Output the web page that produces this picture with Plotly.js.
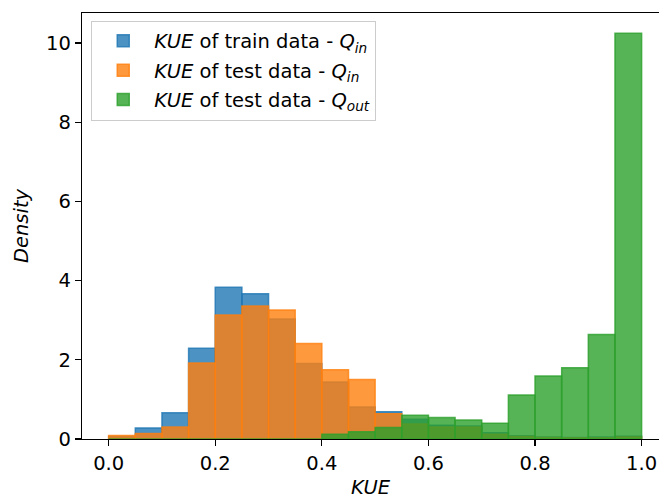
<!DOCTYPE html>
<html>
<head>
<meta charset="utf-8">
<script src="https://cdn.plot.ly/plotly-3.0.1.min.js"></script>
<style>
  html, body { margin: 0; padding: 0; background: #fff; }
  #chart { width: 659px; height: 499px; }
</style>
</head>
<body>
<div id="chart"></div>
<script>
// Histogram bins: 20 bins of width 0.05 on [0, 1]
const binWidth = 0.05;
const binStarts = [0.00, 0.05, 0.10, 0.15, 0.20, 0.25, 0.30, 0.35, 0.40, 0.45,
                   0.50, 0.55, 0.60, 0.65, 0.70, 0.75, 0.80, 0.85, 0.90, 0.95];

// Density per bin
const trainIn = [0.06, 0.28, 0.66, 2.29, 3.83, 3.67, 3.03, 1.91, 1.44, 0.81,
                 0.69, 0.50, 0.35, 0.33, 0.16, 0.08, 0.05, 0.04, 0.05, 0.07];
const testIn  = [0.09, 0.14, 0.30, 1.92, 3.13, 3.36, 3.26, 2.41, 1.75, 1.50,
                 0.64, 0.38, 0.30, 0.30, 0.12, 0.06, 0.04, 0.03, 0.03, 0.05];
const testOut = [0.00, 0.00, 0.00, 0.00, 0.00, 0.00, 0.00, 0.00, 0.12, 0.18,
                 0.29, 0.60, 0.54, 0.48, 0.40, 1.11, 1.59, 1.80, 2.64, 10.25];

const seriesNames = [
  '<i>KUE</i> of train data - <i>Q<sub>in</sub></i>',
  '<i>KUE</i> of test data - <i>Q<sub>in</sub></i>',
  '<i>KUE</i> of test data - <i>Q<sub>out</sub></i>'
];
const xTicks = [0.0, 0.2, 0.4, 0.6, 0.8, 1.0];
const yTicks = [0, 2, 4, 6, 8, 10];

const centers = binStarts.map(s => s + binWidth / 2);
const palette = ['31,119,180', '255,127,14', '44,160,44'];

function histTrace(values, name, rgb, group) {
  return {
    type: 'bar',
    x: centers,
    y: values,
    width: binWidth,
    name: name,
    legendgroup: group,
    marker: {
      color: 'rgba(' + rgb + ',0.8)',
      line: { color: 'rgba(' + rgb + ',0.8)', width: 1.5 }
    },
    hoverinfo: 'skip'
  };
}

const data = [
  histTrace(trainIn, seriesNames[0], palette[0], 'train-in'),
  histTrace(testIn, seriesNames[1], palette[1], 'test-in'),
  histTrace(testOut, seriesNames[2], palette[2], 'test-out')
];

const font = { family: 'DejaVu Sans', size: 19.5, color: '#000' };

const layout = {
  width: 659,
  height: 499,
  margin: { l: 82, r: 0, t: 13, b: 60, pad: 0 },
  paper_bgcolor: '#fff',
  plot_bgcolor: '#fff',
  barmode: 'overlay',
  bargap: 0,
  font: font,
  showlegend: true,
  xaxis: {
    range: [-0.05, 1.0326],
    tickvals: xTicks,
    ticktext: xTicks.map(v => v.toFixed(1)),
    ticks: 'outside', ticklen: 6, tickwidth: 1.3, tickcolor: '#000',
    showline: true, linecolor: '#000', linewidth: 1.3, mirror: true,
    showgrid: false, zeroline: false,
    tickfont: font,
    title: { text: '<i>KUE</i>', font: font, standoff: 10 }
  },
  yaxis: {
    range: [0, 10.76],
    tickvals: yTicks,
    ticktext: yTicks.map(String),
    ticks: 'outside', ticklen: 6, tickwidth: 1.3, tickcolor: '#000',
    showline: true, linecolor: '#000', linewidth: 1.3, mirror: false,
    showgrid: false, zeroline: false,
    tickfont: font,
    title: { text: '<i>Density</i>', font: font, standoff: 12 }
  },
  legend: {
    x: 0.016, y: 0.982, xanchor: 'left', yanchor: 'top',
    bgcolor: 'rgba(255,255,255,0.8)',
    bordercolor: '#cccccc', borderwidth: 1,
    font: font,
    itemwidth: 52,
    tracegroupgap: 1
  }
};

Plotly.newPlot('chart', data, layout, { staticPlot: true, displayModeBar: false });
</script>
</body>
</html>
